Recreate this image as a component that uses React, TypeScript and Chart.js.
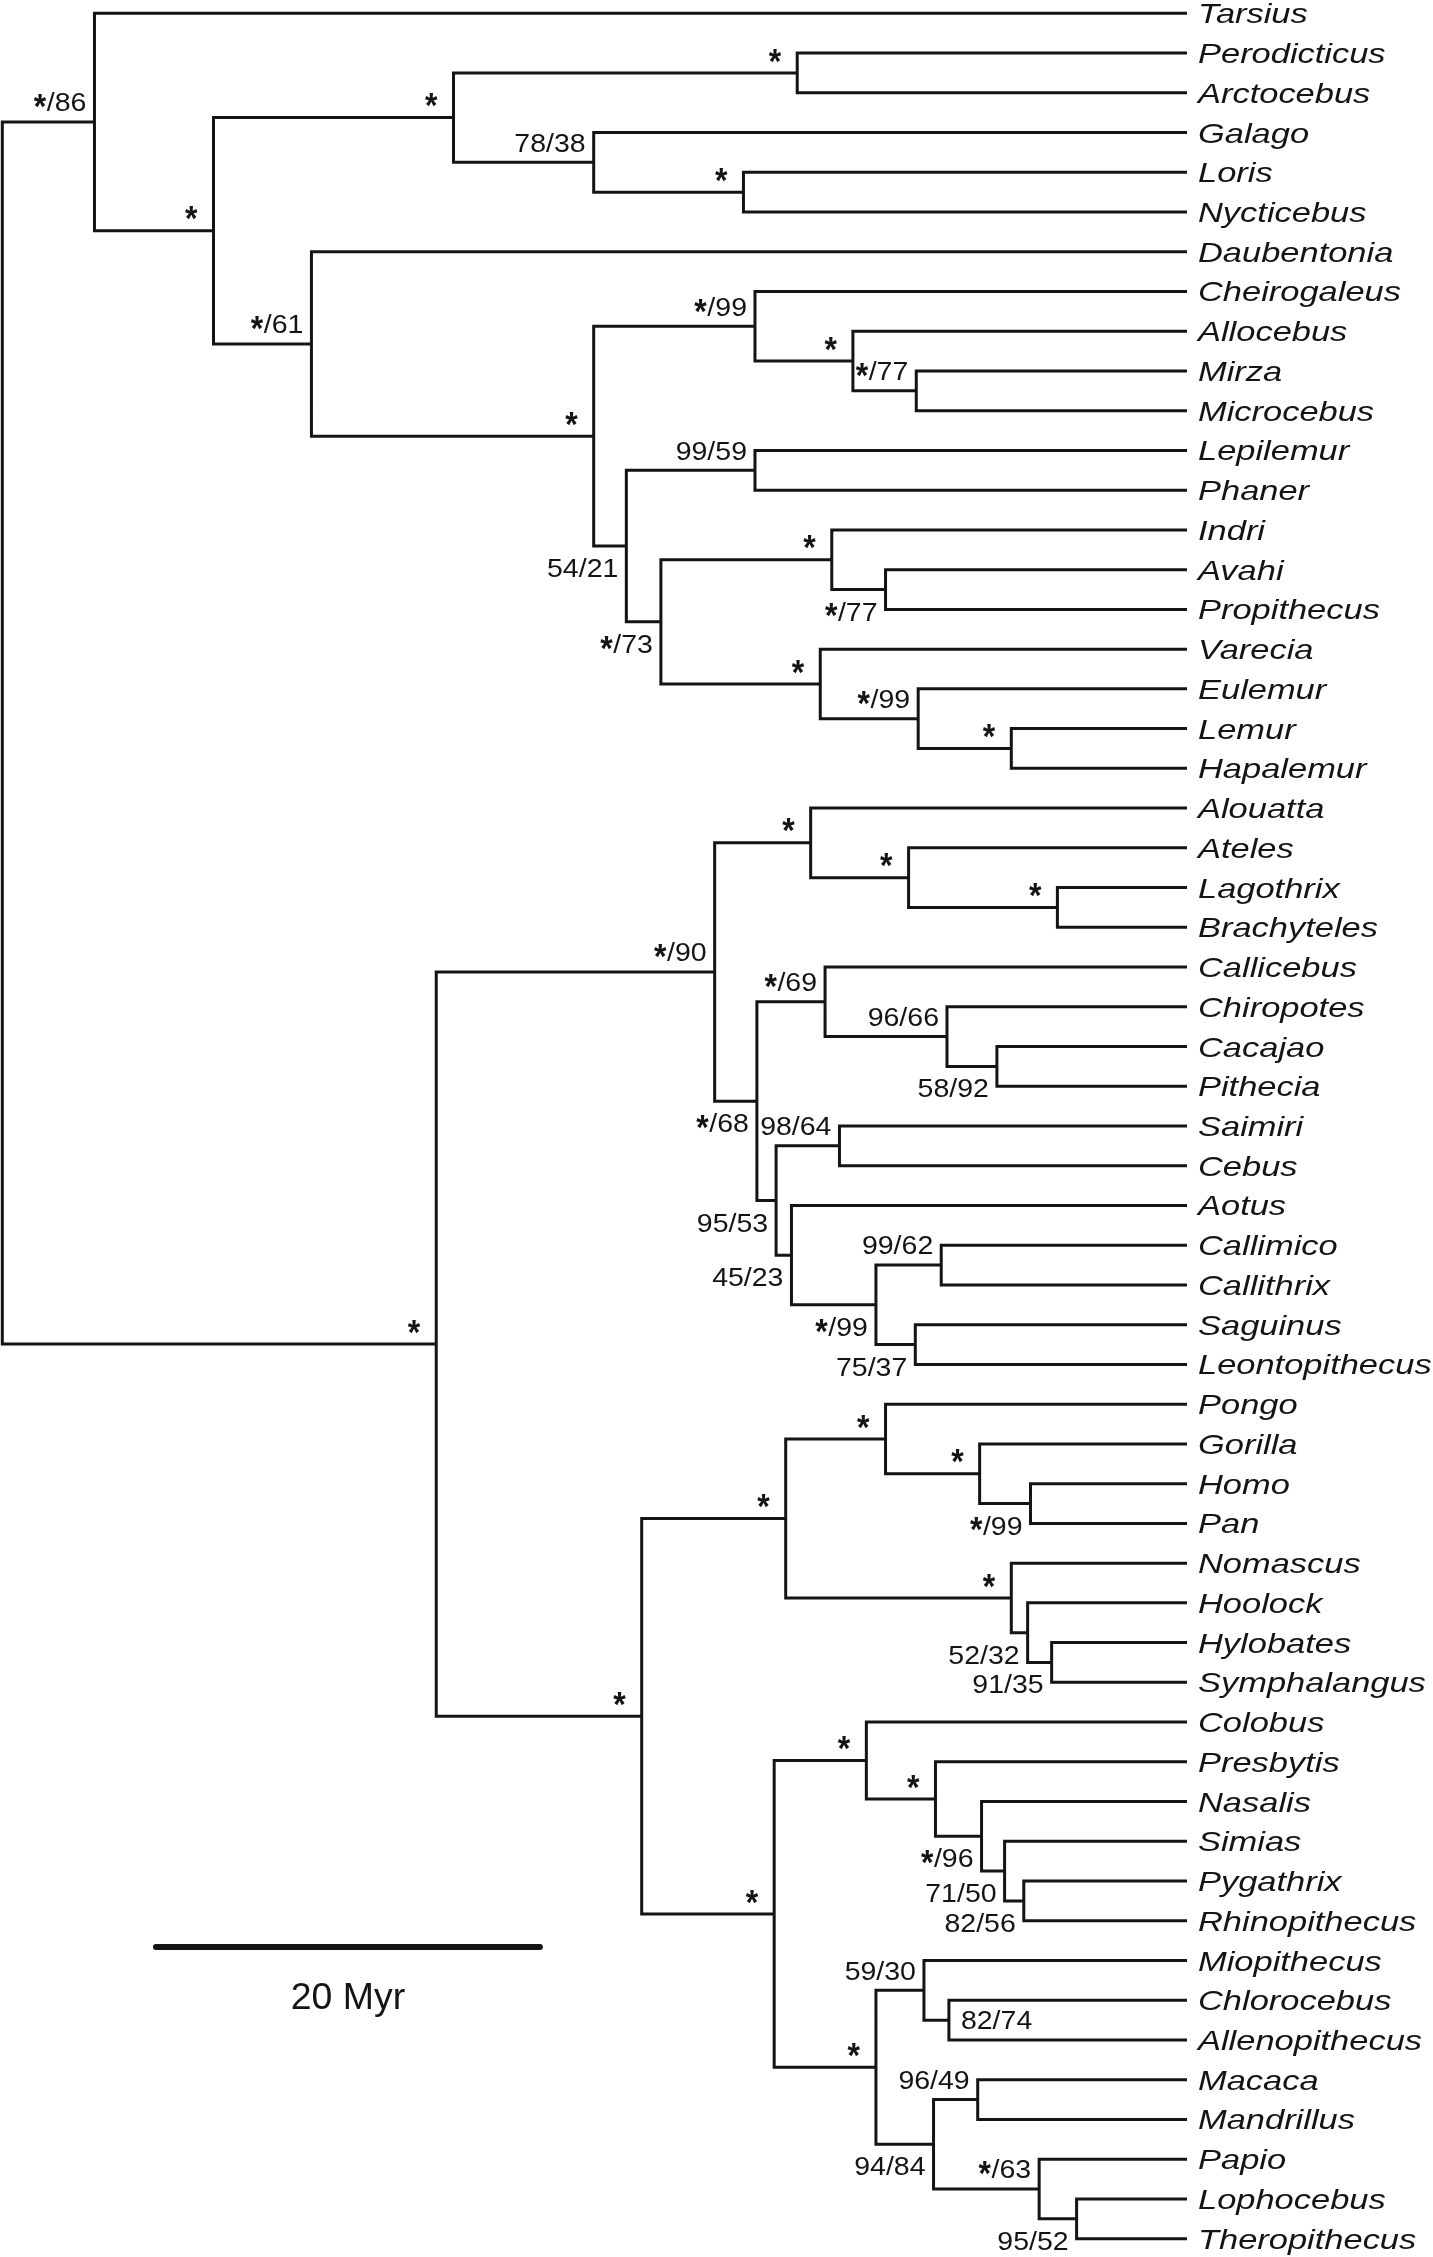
import React, { useEffect, useRef } from 'react';
import { Chart, registerables } from 'chart.js';

Chart.register(...registerables);

// ---------------- DATA ----------------
// Tip taxa, top to bottom
const taxa = [
  'Tarsius', 'Perodicticus', 'Arctocebus', 'Galago', 'Loris', 'Nycticebus', 'Daubentonia',
  'Cheirogaleus', 'Allocebus', 'Mirza', 'Microcebus', 'Lepilemur', 'Phaner', 'Indri', 'Avahi',
  'Propithecus', 'Varecia', 'Eulemur', 'Lemur', 'Hapalemur', 'Alouatta', 'Ateles', 'Lagothrix',
  'Brachyteles', 'Callicebus', 'Chiropotes', 'Cacajao', 'Pithecia', 'Saimiri', 'Cebus', 'Aotus',
  'Callimico', 'Callithrix', 'Saguinus', 'Leontopithecus', 'Pongo', 'Gorilla', 'Homo', 'Pan',
  'Nomascus', 'Hoolock', 'Hylobates', 'Symphalangus', 'Colobus', 'Presbytis', 'Nasalis', 'Simias',
  'Pygathrix', 'Rhinopithecus', 'Miopithecus', 'Chlorocebus', 'Allenopithecus', 'Macaca',
  'Mandrillus', 'Papio', 'Lophocebus', 'Theropithecus',
];

// Internal nodes (clades)
const cladeIds = [
  'PeroArct', 'LorNyc', 'GalLor', 'Lorisiformes', 'MirMic', 'AlloMirMic', 'Cheirogaleidae',
  'LepPha', 'AvaPro', 'Indriidae', 'LemHap', 'EulLem', 'Lemuridae', 'IndLemur', 'LepIndLem',
  'Lemuroidea', 'Lemuriformes', 'Strepsirrhini', 'TarStrep',
  'LagBra', 'AteLagBra', 'Atelidae', 'CacPit', 'ChiCacPit', 'Pitheciidae', 'SaiCeb', 'CmiCth',
  'SagLeo', 'Callitrichidae', 'AotCallit', 'Cebidae', 'PithCebid', 'Platyrrhini',
  'HomPan', 'Homininae', 'Hominidae', 'HylSym', 'HooHylSym', 'Hylobatidae', 'Hominoidea',
  'PygRhi', 'SimPygRhi', 'NasSim', 'PreNas', 'Colobinae', 'ChlAll', 'Cercopithecini', 'MacMan',
  'LopThe', 'PapLopThe', 'Papionini', 'Cercopithecinae', 'Cercopithecidae', 'Catarrhini',
  'Anthropoidea', 'Root',
];

const cladeChildren: [string, string][] = [
  ['Perodicticus', 'Arctocebus'], ['Loris', 'Nycticebus'], ['Galago', 'LorNyc'], ['PeroArct', 'GalLor'],
  ['Mirza', 'Microcebus'], ['Allocebus', 'MirMic'], ['Cheirogaleus', 'AlloMirMic'],
  ['Lepilemur', 'Phaner'], ['Avahi', 'Propithecus'], ['Indri', 'AvaPro'], ['Lemur', 'Hapalemur'],
  ['Eulemur', 'LemHap'], ['Varecia', 'EulLem'], ['Indriidae', 'Lemuridae'], ['LepPha', 'IndLemur'],
  ['Cheirogaleidae', 'LepIndLem'], ['Daubentonia', 'Lemuroidea'], ['Lorisiformes', 'Lemuriformes'],
  ['Tarsius', 'Strepsirrhini'],
  ['Lagothrix', 'Brachyteles'], ['Ateles', 'LagBra'], ['Alouatta', 'AteLagBra'], ['Cacajao', 'Pithecia'],
  ['Chiropotes', 'CacPit'], ['Callicebus', 'ChiCacPit'], ['Saimiri', 'Cebus'], ['Callimico', 'Callithrix'],
  ['Saguinus', 'Leontopithecus'], ['CmiCth', 'SagLeo'], ['Aotus', 'Callitrichidae'], ['SaiCeb', 'AotCallit'],
  ['Pitheciidae', 'Cebidae'], ['Atelidae', 'PithCebid'],
  ['Homo', 'Pan'], ['Gorilla', 'HomPan'], ['Pongo', 'Homininae'], ['Hylobates', 'Symphalangus'],
  ['Hoolock', 'HylSym'], ['Nomascus', 'HooHylSym'], ['Hominidae', 'Hylobatidae'],
  ['Pygathrix', 'Rhinopithecus'], ['Simias', 'PygRhi'], ['Nasalis', 'SimPygRhi'], ['Presbytis', 'NasSim'],
  ['Colobus', 'PreNas'], ['Chlorocebus', 'Allenopithecus'], ['Miopithecus', 'ChlAll'], ['Macaca', 'Mandrillus'],
  ['Lophocebus', 'Theropithecus'], ['Papio', 'LopThe'], ['MacMan', 'PapLopThe'], ['Cercopithecini', 'Papionini'],
  ['Colobinae', 'Cercopithecinae'], ['Hominoidea', 'Cercopithecidae'],
  ['Platyrrhini', 'Catarrhini'], ['TarStrep', 'Anthropoidea'],
];

// Node ages (Myr before present)
const cladeAgesMyr = [
  20.3, 23.1, 30.9, 38.2, 14.1, 17.4, 22.5,
  22.5, 15.7, 18.5, 9.15, 14.0, 19.1, 27.4, 29.2,
  30.9, 45.6, 50.7, 56.9,
  6.75, 14.5, 19.6, 9.9, 12.5, 18.85, 18.1, 12.8,
  14.15, 16.2, 20.6, 21.4, 22.4, 24.6,
  8.15, 10.8, 15.7, 7.05, 8.3, 9.15, 20.9,
  8.5, 9.5, 10.7, 13.1, 16.7, 12.4, 13.7, 10.9,
  5.75, 7.7, 13.2, 16.2, 21.5, 28.4,
  39.1, 61.7,
];

// Support values (bootstrap / posterior)
const cladeSupport = [
  '*', '*', '78/38', '*', '*/77', '*', '*/99',
  '99/59', '*/77', '*', '*', '*/99', '*', '*/73', '54/21',
  '*', '*/61', '*', '*/86',
  '*', '*', '*', '58/92', '96/66', '*/69', '98/64', '99/62',
  '75/37', '*/99', '45/23', '95/53', '*/68', '*/90',
  '*/99', '*', '*', '91/35', '52/32', '*', '*',
  '82/56', '71/50', '*/96', '*', '*', '82/74', '59/30', '96/49',
  '95/52', '*/63', '94/84', '*', '*', '*',
  '*', '',
];

// Side of the node on which each support value is written (a = above, b = below, r = right)
const supportSide = [
  'a', 'a', 'a', 'a', 'a', 'a', 'a',
  'a', 'b', 'a', 'a', 'a', 'a', 'b', 'b',
  'a', 'a', 'a', 'a',
  'a', 'a', 'a', 'b', 'a', 'a', 'a', 'a',
  'b', 'b', 'b', 'b', 'b', 'a',
  'b', 'a', 'a', 'b', 'b', 'a', 'a',
  'b', 'b', 'b', 'a', 'a', 'r', 'a', 'a',
  'b', 'a', 'b', 'a', 'a', 'a',
  'a', 'a',
];

const scaleBarMyr = 20;
const scaleBarLabel = '20 Myr';

// ---------------- LAYOUT / STYLE ----------------
const W = 1433;
const H = 2257;
const INK = '#141414';
const FAMILY = '"Liberation Sans", Arial, Helvetica, sans-serif';
const TIP_FONT = `italic 28px ${FAMILY}`;
const TIP_STRETCH = 1.23;
const TIP_GAP = 11;
const TIP_BASE_DROP = 10;
const NUM_FONT = `25px ${FAMILY}`;
const NUM_STRETCH = 1.14;
const NUM_GAP = 8;
const BAR_FONT = `36px ${FAMILY}`;
const BAR_STRETCH = 1.04;
const STAR_FONT = `bold 100px ${FAMILY}`;
const STAR_W = 12.5;
const STAR_H = 13;
const LABEL_GUTTER = 246;
const SCALE_BAR_START_MYR = 53.7;
const SCALE_BAR_ROW = 48.66;
const SCALE_LABEL_DROP = 62;

// ---------------- TREE GEOMETRY (from data) ----------------
const childMap = new Map<string, [string, string]>(cladeIds.map((id, i) => [id, cladeChildren[i]]));
const ageMap = new Map<string, number>(cladeIds.map((id, i) => [id, cladeAgesMyr[i]]));

function rowOf(name: string): number {
  const t = taxa.indexOf(name);
  if (t >= 0) return t;
  const [a, b] = childMap.get(name)!;
  return (rowOf(a) + rowOf(b)) / 2;
}
function ageOf(name: string): number {
  return taxa.includes(name) ? 0 : ageMap.get(name)!;
}

const rootAge = Math.max(...cladeAgesMyr);

const treePoints: { x: number | null; y: number | null }[] = [];
cladeIds.forEach((id, i) => {
  const [a, b] = cladeChildren[i];
  const age = cladeAgesMyr[i];
  const ya = rowOf(a);
  const yb = rowOf(b);
  treePoints.push(
    { x: ageOf(a), y: ya },
    { x: age, y: ya },
    { x: age, y: yb },
    { x: ageOf(b), y: yb },
    { x: null, y: null },
  );
});

const scaleBarPoints = [
  { x: SCALE_BAR_START_MYR, y: SCALE_BAR_ROW },
  { x: SCALE_BAR_START_MYR - scaleBarMyr, y: SCALE_BAR_ROW },
];

// ---------------- TEXT HELPERS ----------------
function textWidth(ctx: CanvasRenderingContext2D, text: string, font: string, sx: number) {
  ctx.font = font;
  return ctx.measureText(text).width * sx;
}

function drawStretched(
  ctx: CanvasRenderingContext2D, text: string, x: number, y: number,
  font: string, sx: number, align: 'left' | 'right' | 'center',
) {
  const w = textWidth(ctx, text, font, sx);
  const left = align === 'left' ? x : align === 'right' ? x - w : x - w / 2;
  ctx.save();
  ctx.font = font;
  ctx.textAlign = 'left';
  ctx.textBaseline = 'alphabetic';
  ctx.translate(left, y);
  ctx.scale(sx, 1);
  ctx.fillText(text, 0, 0);
  ctx.restore();
  return w;
}

// draws an asterisk whose visible box has its right edge at `right` and is centred on `cy`
function drawStar(ctx: CanvasRenderingContext2D, right: number, cy: number) {
  ctx.save();
  ctx.font = STAR_FONT;
  ctx.textAlign = 'left';
  ctx.textBaseline = 'alphabetic';
  const m = ctx.measureText('*');
  const bw = m.actualBoundingBoxLeft + m.actualBoundingBoxRight;
  const bh = m.actualBoundingBoxAscent + m.actualBoundingBoxDescent;
  ctx.translate(right - STAR_W, cy - STAR_H / 2);
  ctx.scale(STAR_W / bw, STAR_H / bh);
  ctx.fillText('*', m.actualBoundingBoxLeft, m.actualBoundingBoxAscent);
  ctx.restore();
}

const treeTextPlugin = {
  id: 'treeText',
  afterDatasetsDraw(chart: any) {
    const ctx: CanvasRenderingContext2D = chart.ctx;
    const xs = chart.scales.x;
    const ys = chart.scales.y;
    ctx.save();
    ctx.fillStyle = INK;

    // tip names
    const tipX = xs.getPixelForValue(0) + TIP_GAP;
    taxa.forEach((name, i) => {
      drawStretched(ctx, name, tipX, ys.getPixelForValue(i) + TIP_BASE_DROP, TIP_FONT, TIP_STRETCH, 'left');
    });

    // support values
    cladeIds.forEach((id, i) => {
      const text = cladeSupport[i];
      if (!text) return;
      const px = xs.getPixelForValue(cladeAgesMyr[i]);
      const py = ys.getPixelForValue(rowOf(id));
      const side = supportSide[i];
      if (text === '*') {
        drawStar(ctx, px - 16, py - 17.5);
        return;
      }
      const hasStar = text.startsWith('*');
      const rest = hasStar ? text.slice(1) : text;
      let base: number;
      let restLeft: number;
      const restW = textWidth(ctx, rest, NUM_FONT, NUM_STRETCH);
      if (side === 'r') {
        base = py + 9;
        restLeft = px + 12;
      } else if (side === 'b') {
        base = py + 31;
        restLeft = px - NUM_GAP - restW;
      } else {
        base = py - 10.6;
        restLeft = px - NUM_GAP - restW;
      }
      drawStretched(ctx, rest, restLeft, base, NUM_FONT, NUM_STRETCH, 'left');
      if (hasStar) drawStar(ctx, restLeft - 0.5, base - 10.2);
    });

    // scale bar caption
    drawStretched(
      ctx, scaleBarLabel,
      xs.getPixelForValue(SCALE_BAR_START_MYR - scaleBarMyr / 2),
      ys.getPixelForValue(SCALE_BAR_ROW) + SCALE_LABEL_DROP,
      BAR_FONT, BAR_STRETCH, 'center',
    );
    ctx.restore();
  },
};

export default function App() {
  const ref = useRef<HTMLCanvasElement>(null);
  useEffect(() => {
    const chart = new Chart(ref.current as HTMLCanvasElement, {
      type: 'scatter',
      data: {
        datasets: [
          {
            label: 'tree',
            data: treePoints as any,
            showLine: true,
            spanGaps: false,
            borderColor: INK,
            borderWidth: 3,
            borderJoinStyle: 'miter',
            borderCapStyle: 'butt',
            pointRadius: 0,
            pointHoverRadius: 0,
            tension: 0,
            clip: false as any,
          },
          {
            label: 'scale',
            data: scaleBarPoints,
            showLine: true,
            borderColor: INK,
            borderWidth: 6,
            borderCapStyle: 'round',
            pointRadius: 0,
            pointHoverRadius: 0,
            clip: false as any,
          },
        ],
      },
      options: {
        responsive: false,
        animation: false,
        devicePixelRatio: 1,
        layout: { padding: { top: 13.3, bottom: 18.3, left: 2.3, right: LABEL_GUTTER } },
        plugins: { legend: { display: false }, tooltip: { enabled: false } },
        events: [],
        scales: {
          x: { type: 'linear', reverse: true, min: 0, max: rootAge, display: false },
          y: { type: 'linear', reverse: true, min: 0, max: taxa.length - 1, display: false },
        },
      },
      plugins: [treeTextPlugin],
    } as any);
    return () => chart.destroy();
  }, []);
  return (
    <div style={{ position: 'absolute', left: 0, top: 0, width: W, height: H, background: '#fff' }}>
      <canvas ref={ref} width={W} height={H} style={{ display: 'block', width: W, height: H }} />
    </div>
  );
}
